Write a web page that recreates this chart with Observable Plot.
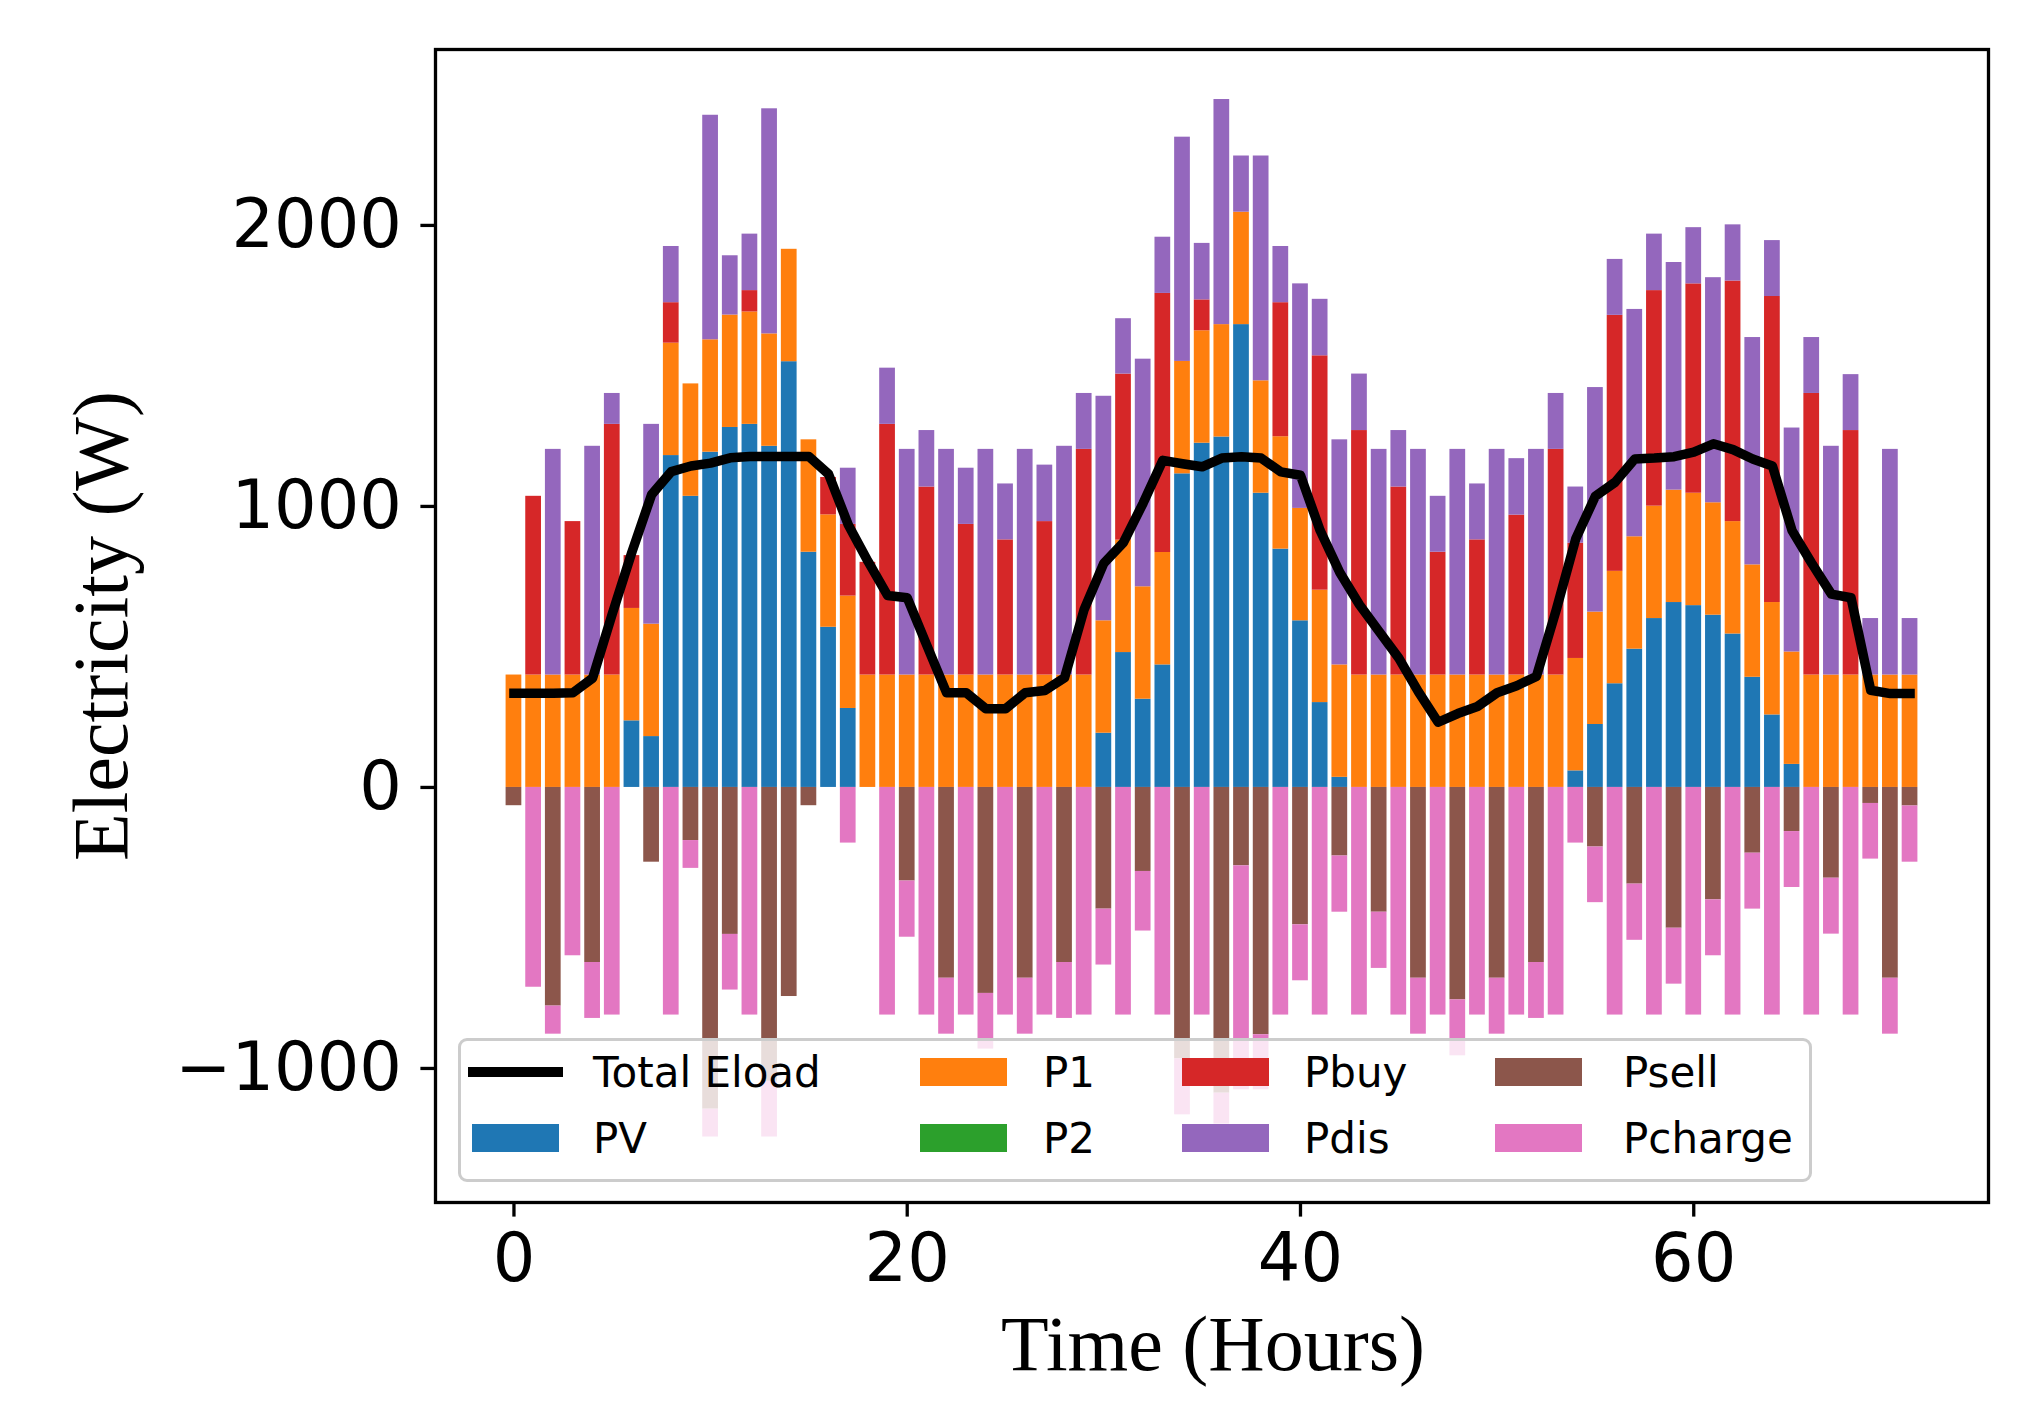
<!DOCTYPE html>
<html>
<head>
<meta charset="utf-8">
<script src="https://cdn.jsdelivr.net/npm/d3@7"></script>
<script src="https://cdn.jsdelivr.net/npm/@observablehq/plot@0.6"></script>
<style>
  html, body { margin: 0; padding: 0; background: #ffffff; }
  #wrap { position: relative; width: 2024px; height: 1408px; background: #ffffff; overflow: hidden; }
  #wrap svg { position: absolute; left: 0; top: 0; }
  .axtitle { position: absolute; font-family: "Liberation Serif", "Times New Roman", serif; font-size: 78px; line-height: 78px; white-space: nowrap; color: #000; }
  #legendbox { position: absolute; box-sizing: border-box; border: 3.3px solid #cccccc; border-radius: 9px; background: rgba(255,255,255,0.8); }
  .legtext { position: absolute; font-family: "DejaVu Sans", sans-serif; font-size: 42px; line-height: 42px; white-space: nowrap; color: #000; }
  .legpatch { position: absolute; }
</style>
</head>
<body>
<div id="wrap"></div>
<script>
// ---- data ----
const hours = d3.range(72);

const Eload = [
  335,335,335,337,389,618,838,1042,1124,1144,1154,1173,
  1178,1178,1178,1178,1115,935,805,683,675,505,337,337,
  280,280,337,345,390,634,798,872,1012,1164,1152,1141,
  1172,1177,1172,1123,1111,914,765,650,555,460,340,232,
  263,288,337,362,395,630,885,1037,1086,1169,1172,1177,
  1193,1223,1202,1169,1144,914,798,688,675,346,334,334
];

const PV = [
  0,0,0,0,0,0,237,181,1181,1036,1193,1281,
  1292,1214,1515,837,570,281,0,0,0,0,0,0,
  0,0,0,0,0,0,193,480,314,436,1116,1225,
  1247,1647,1047,848,593,302,36,0,0,0,0,0,
  0,0,0,0,0,0,59,224,369,492,601,658,
  647,613,546,392,258,82,0,0,0,0,0,0
];

const P1 = [
  400,400,400,400,400,400,400,400,400,400,400,400,
  400,400,400,400,400,400,400,400,400,400,400,400,
  400,400,400,400,400,400,400,400,400,400,400,400,
  400,400,400,400,400,400,400,400,400,400,400,400,
  400,400,400,400,400,400,400,400,400,400,400,400,
  400,400,400,400,400,400,400,400,400,400,400,400
];

const P2 = [
  0,0,0,0,0,0,0,0,0,0,0,0,
  0,0,0,0,0,0,0,0,0,0,0,0,
  0,0,0,0,0,0,0,0,0,0,0,0,
  0,0,0,0,0,0,0,0,0,0,0,0,
  0,0,0,0,0,0,0,0,0,0,0,0,
  0,0,0,0,0,0,0,0,0,0,0,0
];

const Pbuy = [
  0,636,0,546,0,892,188,0,144,0,0,0,
  76,0,0,0,133,255,401,892,0,669,0,536,
  0,481,0,546,0,803,0,591,0,922,0,110,
  0,0,0,477,0,834,0,870,0,669,0,437,
  0,481,0,569,0,803,410,0,911,0,767,0,
  745,0,856,0,1089,0,1002,0,870,0,0,0
];

const Pdis = [
  0,0,803,0,814,110,0,711,200,0,799,211,
  201,801,0,0,0,200,0,200,803,201,803,200,
  803,199,803,201,814,199,799,197,810,200,798,201,
  801,200,800,200,799,201,801,201,803,201,803,199,
  803,199,803,201,803,199,200,799,199,809,201,810,
  200,801,200,809,199,797,199,814,199,201,803,201
];

const Psell = [
  -65,0,-778,0,-623,0,0,-266,0,-189,-1145,-523,
  0,-1046,-744,-65,0,0,0,0,-333,0,-679,0,
  -733,0,-679,0,-623,0,-433,0,-299,0,-966,0,
  -1088,-279,-880,0,-489,0,-244,0,-444,0,-679,0,
  -756,0,-679,0,-623,0,0,-212,0,-344,0,-501,
  0,-400,0,-234,0,-157,0,-323,0,-57,-679,-66
];

const Pcharge = [
  0,-711,-100,-599,-199,-810,0,0,-810,-99,-99,-198,
  -810,-198,0,0,0,-198,0,-810,-200,-810,-199,-810,
  -198,-810,-199,-810,-199,-810,-199,-810,-212,-810,-199,-810,
  -110,-797,-196,-810,-199,-810,-200,-810,-200,-810,-199,-810,
  -199,-810,-199,-810,-199,-810,-198,-198,-810,-200,-810,-199,
  -810,-199,-810,-199,-810,-199,-810,-199,-810,-198,-199,-200
];

const xTicks = [0, 20, 40, 60];
const yTicks = [-1000, 0, 1000, 2000];

const seriesNames = ["PV", "P1", "P2", "Pbuy", "Pdis", "Psell", "Pcharge"];
const seriesColors = ["#1f77b4", "#ff7f0e", "#2ca02c", "#d62728", "#9467bd", "#8c564b", "#e377c2"];
const lineLabel = "Total Eload";
const xLabel = "Time (Hours)";
const yLabel = "Electricity (W)";

// ---- build stacked segments ----
const positive = [["PV", PV], ["P1", P1], ["P2", P2], ["Pbuy", Pbuy], ["Pdis", Pdis]];
const negative = [["Psell", Psell], ["Pcharge", Pcharge]];
const segs = [];
hours.forEach((h, i) => {
  let top = 0;
  for (const [name, vals] of positive) {
    const v = vals[i];
    segs.push({hour: h, y1: top, y2: top + v, key: name});
    top += v;
  }
  let bot = 0;
  for (const [name, vals] of negative) {
    const v = vals[i];
    segs.push({hour: h, y1: bot, y2: bot + v, key: name});
    bot += v;
  }
});
const lineData = hours.map((h, i) => ({hour: h, load: Eload[i]}));

const chart = Plot.plot({
  width: 2024,
  height: 1408,
  marginLeft: 435,
  marginRight: 36,
  marginTop: 49,
  marginBottom: 206,
  x: {domain: [-3.99, 74.99], label: null},
  y: {domain: [-1477, 2626], label: null},
  color: {domain: seriesNames, range: seriesColors},
  style: {background: "white", color: "black", fontFamily: "DejaVu Sans", overflow: "visible"},
  marks: [
    Plot.rect(segs.filter(d => d.y1 !== d.y2), {
      x1: d => d.hour - 0.4,
      x2: d => d.hour + 0.4,
      y1: "y1",
      y2: "y2",
      fill: "key"
    }),
    Plot.line(lineData, {
      x: "hour", y: "load",
      stroke: "black", strokeWidth: 9.5,
      strokeLinejoin: "round", strokeLinecap: "square"
    }),
    Plot.axisX({ticks: xTicks, tickSize: 14.6, tickPadding: 16, fontSize: 67, strokeWidth: 3.3, label: null}),
    Plot.axisY({ticks: yTicks, tickFormat: d3.format("d"), tickSize: 14.6, tickPadding: 19, fontSize: 67, strokeWidth: 3.3, label: null}),
    Plot.frame({stroke: "black", strokeWidth: 3.3})
  ]
});

const wrap = document.getElementById("wrap");
wrap.appendChild(chart);

// axis titles
const xl = document.createElement("div");
xl.className = "axtitle";
xl.textContent = xLabel;
xl.style.left = "1213px";
xl.style.top = "1305px";
xl.style.transform = "translateX(-50%)";
wrap.appendChild(xl);

const yl = document.createElement("div");
yl.className = "axtitle";
yl.textContent = yLabel;
yl.style.left = "101px";
yl.style.top = "626px";
yl.style.transform = "translate(-50%,-50%) rotate(-90deg)";
wrap.appendChild(yl);

// legend (matplotlib style, 4 columns, column-major order)
const box = document.createElement("div");
box.id = "legendbox";
box.style.left = "458px";
box.style.top = "1038px";
box.style.width = "1354px";
box.style.height = "144px";
wrap.appendChild(box);

const legendItems = [
  {label: lineLabel, type: "line", color: "black"},
  {label: "PV", type: "patch", color: seriesColors[0]},
  {label: "P1", type: "patch", color: seriesColors[1]},
  {label: "P2", type: "patch", color: seriesColors[2]},
  {label: "Pbuy", type: "patch", color: seriesColors[3]},
  {label: "Pdis", type: "patch", color: seriesColors[4]},
  {label: "Psell", type: "patch", color: seriesColors[5]},
  {label: "Pcharge", type: "patch", color: seriesColors[6]}
];
const colHandleX = [472, 920, 1182, 1495];
const colTextX = [593, 1043, 1304, 1623];
const rowY = [1072, 1138];
legendItems.forEach((it, k) => {
  const col = Math.floor(k / 2), row = k % 2;
  const hx = colHandleX[col], cy = rowY[row];
  const p = document.createElement("div");
  p.className = "legpatch";
  if (it.type === "line") {
    p.style.left = (hx - 4) + "px";
    p.style.width = "95px";
    p.style.top = (cy - 4.75) + "px";
    p.style.height = "9.5px";
  } else {
    p.style.left = hx + "px";
    p.style.width = "87px";
    p.style.top = (cy - 14) + "px";
    p.style.height = "28px";
  }
  p.style.background = it.color;
  wrap.appendChild(p);
  const t = document.createElement("div");
  t.className = "legtext";
  t.textContent = it.label;
  t.style.left = colTextX[col] + "px";
  t.style.top = (cy - 20.5) + "px";
  wrap.appendChild(t);
});
</script>
</body>
</html>
